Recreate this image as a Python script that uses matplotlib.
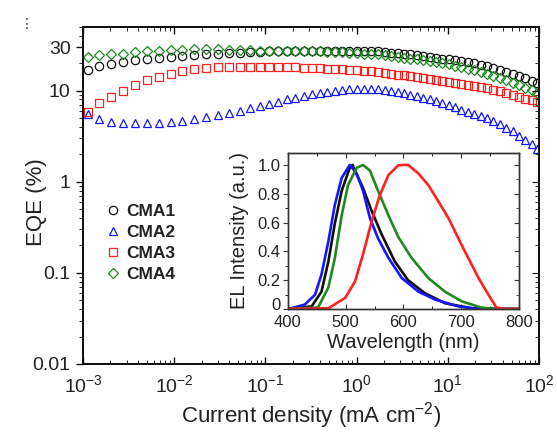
import numpy as np
import matplotlib
matplotlib.use("Agg")
import matplotlib.pyplot as plt
from matplotlib.ticker import LogLocator, FixedLocator, FixedFormatter, MultipleLocator, NullFormatter
from matplotlib.transforms import ScaledTranslation

plt.rcParams['font.family'] = ['Liberation Sans', 'DejaVu Sans']
plt.rcParams['mathtext.fontset'] = 'custom'
plt.rcParams['mathtext.rm'] = 'Liberation Sans'
plt.rcParams['mathtext.it'] = 'Liberation Sans:italic'

# ---------------- data: EQE vs current density ----------------
log_current = [-2.95, -2.82, -2.69, -2.56, -2.43, -2.30, -2.17, -2.04, -1.91, -1.78,
               -1.65, -1.52, -1.40, -1.28, -1.17, -1.06, -0.96, -0.86, -0.76, -0.67,
               -0.58, -0.49, -0.40, -0.32, -0.24, -0.16, -0.08, 0.00, 0.08, 0.16,
               0.24, 0.31, 0.38, 0.45, 0.52, 0.59, 0.66, 0.73, 0.80, 0.87,
               0.94, 1.01, 1.08, 1.15, 1.22, 1.29, 1.36, 1.43, 1.50, 1.57,
               1.64, 1.71, 1.78, 1.85, 1.92, 1.98]

eqe_cma1 = [17.0, 18.5, 19.5, 20.5, 21.5, 22.0, 23.0, 23.5, 24.0, 24.5,
            25.0, 25.5, 26.0, 26.0, 26.5, 26.5, 27.0, 27.0, 27.0, 27.0,
            27.5, 27.5, 27.5, 27.5, 27.5, 27.5, 27.5, 27.5, 27.5, 27.0,
            27.0, 26.5, 26.0, 26.0, 25.5, 25.0, 24.5, 24.0, 23.5, 23.0,
            22.5, 22.0, 21.5, 21.0, 20.5, 20.0, 19.3, 18.5, 17.8, 17.0,
            16.2, 15.3, 14.5, 13.7, 12.8, 12.0]

eqe_cma2 = [5.6, 4.9, 4.5, 4.4, 4.4, 4.4, 4.4, 4.5, 4.7, 4.9,
            5.1, 5.4, 5.7, 6.0, 6.4, 6.8, 7.2, 7.6, 8.0, 8.4,
            8.8, 9.1, 9.4, 9.7, 9.9, 10.1, 10.3, 10.4, 10.5, 10.5,
            10.4, 10.2, 10.0, 9.7, 9.4, 9.0, 8.7, 8.4, 8.1, 7.7,
            7.3, 7.0, 6.6, 6.2, 5.9, 5.6, 5.3, 5.0, 4.6, 4.3,
            3.9, 3.6, 3.2, 2.9, 2.6, 2.3]

eqe_cma3 = [5.9, 7.3, 8.6, 10.0, 11.5, 13.0, 14.3, 15.3, 16.5, 17.2,
            17.8, 18.0, 18.0, 18.0, 18.0, 18.0, 18.0, 18.0, 18.0, 18.0,
            17.8, 17.8, 17.6, 17.5, 17.3, 17.2, 17.0, 16.8, 16.6, 16.3,
            16.0, 15.7, 15.4, 15.0, 14.7, 14.4, 14.0, 13.7, 13.4, 13.0,
            12.7, 12.4, 12.1, 11.8, 11.6, 11.3, 11.0, 10.6, 10.2, 9.8,
            9.4, 9.0, 8.6, 8.2, 7.9, 7.6]

eqe_cma4 = [23.5, 24.5, 25.0, 25.5, 26.5, 27.0, 27.5, 28.0, 28.0, 28.5,
            28.5, 28.5, 28.0, 28.0, 28.0, 27.5, 27.5, 27.5, 27.0, 27.0,
            27.0, 27.0, 27.0, 26.5, 26.5, 26.5, 26.0, 26.0, 25.5, 25.0,
            25.0, 24.5, 24.0, 23.5, 23.0, 22.5, 22.0, 21.5, 21.0, 20.5,
            20.0, 19.5, 18.8, 18.2, 17.5, 16.8, 16.2, 15.3, 14.5, 13.8,
            13.0, 12.2, 11.5, 10.8, 10.1, 9.5]

labels = ['CMA1', 'CMA2', 'CMA3', 'CMA4']
colors = ['#111111', '#1515ff', '#ff2020', '#1e8a1e']
markers = ['o', '^', 's', 'D']
marker_sizes = [6.0, 6.3, 5.8, 5.4]

# ---------------- data: EL spectra ----------------
wl_cma1 = [400, 441, 458, 470, 481, 493, 507, 512, 516, 530, 545, 562, 585, 608, 637, 672, 718, 800]
el_cma1 = [0.0, 0.018, 0.12, 0.33, 0.59, 0.82, 0.98, 1.0, 0.96, 0.84, 0.68, 0.52, 0.33, 0.20, 0.11, 0.04, 0.005, 0.0]

wl_cma2 = [400, 429, 447, 458, 470, 481, 493, 507, 519, 530, 542, 556, 574, 597, 626, 655, 695, 730, 800]
el_cma2 = [0.0, 0.03, 0.10, 0.24, 0.47, 0.72, 0.91, 1.0, 0.94, 0.82, 0.63, 0.49, 0.355, 0.215, 0.12, 0.065, 0.018, 0.0, 0.0]

wl_cma3 = [400, 470, 499, 516, 530, 545, 559, 574, 591, 600, 608, 626, 643, 660, 678, 695, 712, 730, 747, 761, 776, 800]
el_cma3 = [0.0, 0.005, 0.077, 0.19, 0.38, 0.61, 0.79, 0.93, 0.997, 1.0, 1.0, 0.94, 0.86, 0.75, 0.63, 0.49, 0.355, 0.215, 0.10, 0.01, 0.0, 0.0]

wl_cma4 = [400, 452, 470, 481, 493, 504, 519, 530, 542, 556, 574, 591, 614, 643, 672, 701, 735, 758, 800]
el_cma4 = [0.0, 0.01, 0.15, 0.35, 0.65, 0.86, 0.98, 1.0, 0.96, 0.82, 0.65, 0.50, 0.355, 0.215, 0.12, 0.053, 0.01, 0.0, 0.0]

text_color = '#222222'

fig = plt.figure(figsize=(5.57, 4.33), dpi=100)
ax = fig.add_axes([0.149, 0.1594, 0.8187, 0.7783])

current = 10.0 ** np.array(log_current)
series = [eqe_cma1, eqe_cma2, eqe_cma3, eqe_cma4]
for vals, lab, c, m, ms in zip(series, labels, colors, markers, marker_sizes):
    ax.plot(current, vals, linestyle='none', marker=m, markersize=ms,
            markerfacecolor='none', markeredgecolor=c, markeredgewidth=0.9,
            label=lab, clip_on=True)

ax.set_xscale('log')
ax.set_yscale('log')
ax.set_xlim(1e-3, 1e2)
ax.set_ylim(0.01, 50)

ax.yaxis.set_major_locator(FixedLocator([0.01, 0.1, 1, 10, 30]))
ax.yaxis.set_major_formatter(FixedFormatter(['0.01', '0.1', '1', '10', '30']))
ax.yaxis.set_minor_locator(LogLocator(base=10, subs=np.arange(2, 10), numticks=20))
ax.yaxis.set_minor_formatter(NullFormatter())
ax.xaxis.set_major_locator(LogLocator(base=10, numticks=10))
ax.xaxis.set_minor_locator(LogLocator(base=10, subs=np.arange(2, 10), numticks=20))
ax.xaxis.set_minor_formatter(NullFormatter())

ax.tick_params(axis='both', which='major', labelsize=14, colors='#111111', labelcolor=text_color, width=1.0)
ax.tick_params(axis='x', which='both', direction='in', top=True, bottom=True)
ax.tick_params(axis='y', which='both', direction='out', left=True, right=False)
ax.tick_params(axis='x', which='major', length=5, pad=7)
ax.tick_params(axis='x', which='minor', length=3)
ax.tick_params(axis='y', which='major', length=5, pad=4)
ax.tick_params(axis='y', which='minor', length=3)

# right side inward ticks
axr = ax.twinx()
axr.set_yscale('log')
axr.set_ylim(ax.get_ylim())
axr.yaxis.set_major_locator(FixedLocator([0.01, 0.1, 1, 10]))
axr.yaxis.set_minor_locator(LogLocator(base=10, subs=np.arange(2, 10), numticks=20))
axr.yaxis.set_major_formatter(NullFormatter())
axr.yaxis.set_minor_formatter(NullFormatter())
axr.tick_params(axis='y', which='both', direction='in', colors='#111111')
axr.tick_params(axis='y', which='major', length=5)
axr.tick_params(axis='y', which='minor', length=3)

for a in (ax, axr):
    for s in a.spines.values():
        s.set_linewidth(1.4)
        s.set_color('#111111')

ax.set_xlabel('Current density (mA cm$^{-2}$)', fontsize=16, color=text_color, labelpad=3)
ax.set_ylabel('EQE (%)', fontsize=16, color=text_color)
ax.yaxis.set_label_coords(-0.08, 0.48)

leg = ax.legend(loc='upper left', bbox_to_anchor=(0.035, 0.495), frameon=False,
                handlelength=0.8, handletextpad=0.4, labelspacing=0.33,
                borderaxespad=0, prop={'weight': 'bold', 'size': 12.5})
for t in leg.get_texts():
    t.set_color(text_color)

fig.text(0.048, 0.945, '\u22ee', fontsize=10, color='#333333', ha='center', va='center',
         family='DejaVu Sans')

# ---------------- inset ----------------
ins = fig.add_axes([0.517, 0.2864, 0.4147, 0.3603])
wls = [wl_cma1, wl_cma2, wl_cma3, wl_cma4]
els = [el_cma1, el_cma2, el_cma3, el_cma4]
order = [0, 1, 3, 2]
for i in order:
    ins.plot(wls[i], els[i], color=colors[i], linewidth=1.9)
ins.set_xlim(400, 800)
ins.set_ylim(0, 1.083)
ins.xaxis.set_major_locator(MultipleLocator(100))
ins.xaxis.set_minor_locator(MultipleLocator(50))
ins.yaxis.set_major_locator(FixedLocator([0, 0.2, 0.4, 0.6, 0.8, 1.0]))
ins.yaxis.set_major_formatter(FixedFormatter(['0', '0.2', '0.4', '0.6', '0.8', '1.0']))
ins.yaxis.set_minor_locator(MultipleLocator(0.1))
ins.tick_params(axis='both', which='major', labelsize=12, labelcolor=text_color, colors='#333333')
ins.tick_params(axis='x', which='both', direction='in', top=True, bottom=True, pad=4.5)
ins.tick_params(axis='y', which='both', direction='out', left=True, right=False, pad=2)
ins.tick_params(which='major', length=3.5)
ins.tick_params(which='minor', length=2)
insr = ins.twinx()
insr.set_ylim(ins.get_ylim())
insr.yaxis.set_major_locator(MultipleLocator(0.2))
insr.yaxis.set_minor_locator(MultipleLocator(0.1))
insr.yaxis.set_major_formatter(NullFormatter())
insr.tick_params(axis='y', which='both', direction='in', colors='#333333')
insr.tick_params(which='major', length=3.5)
insr.tick_params(which='minor', length=2)
for a in (ins, insr):
    for s in a.spines.values():
        s.set_linewidth(1.0)
        s.set_color('#333333')
ins.set_xlabel('Wavelength (nm)', fontsize=14.5, color=text_color, labelpad=2)
ins.set_ylabel('EL Intensity (a.u.)', fontsize=14.5, color=text_color, labelpad=6)

# lift the "0" label of the inset slightly so it sits above "400"
zero_tick = ins.yaxis.get_major_ticks()[0]
zero_tick.label1.set_transform(zero_tick.label1.get_transform() +
                               ScaledTranslation(0, 3.5 / 72, fig.dpi_scale_trans))

fig.savefig('out.png', dpi=100)
